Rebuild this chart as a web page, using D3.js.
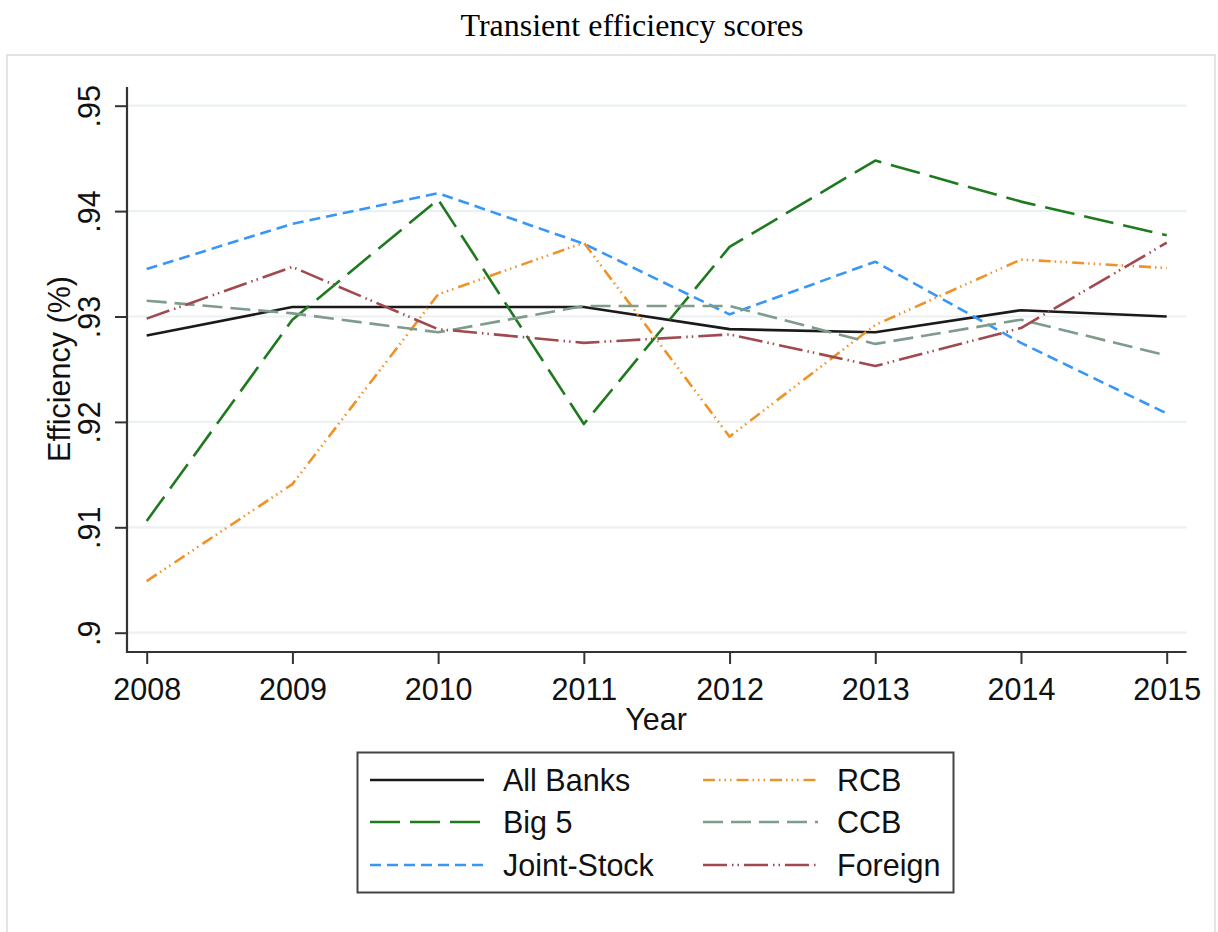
<!DOCTYPE html>
<html>
<head>
<meta charset="utf-8">
<script src="https://cdn.jsdelivr.net/npm/d3@7"></script>
<style>
  html, body { margin: 0; padding: 0; background: #fff; }
  svg { display: block; }
</style>
</head>
<body>
<svg id="chart" width="1218" height="932"></svg>
<script>
// ---- data ----
const years = [2008, 2009, 2010, 2011, 2012, 2013, 2014, 2015];
const allBanks   = [0.9282, 0.9309, 0.9309, 0.9309, 0.9288, 0.9285, 0.9306, 0.9300];
const big5       = [0.9106, 0.9297, 0.9411, 0.9198, 0.9366, 0.9448, 0.9409, 0.9377];
const jointStock = [0.9345, 0.9388, 0.9417, 0.9369, 0.9302, 0.9352, 0.9275, 0.9208];
const rcb        = [0.9049, 0.9141, 0.9321, 0.9370, 0.9186, 0.9292, 0.9354, 0.9346];
const ccb        = [0.9315, 0.9303, 0.9285, 0.9310, 0.9310, 0.9274, 0.9297, 0.9263];
const foreign    = [0.9298, 0.9347, 0.9288, 0.9275, 0.9283, 0.9253, 0.9289, 0.9370];
const yTicks = [0.90, 0.91, 0.92, 0.93, 0.94, 0.95];
const yTickLabels = [".9", ".91", ".92", ".93", ".94", ".95"];
const seriesNames = ["All Banks", "Big 5", "Joint-Stock", "RCB", "CCB", "Foreign"];

const series = [
  { name: seriesNames[0], values: allBanks,   color: "#1a1a1a", dash: null },
  { name: seriesNames[1], values: big5,       color: "#1f7a1f", dash: "30,10" },
  { name: seriesNames[2], values: jointStock, color: "#3796f6", dash: "11,6" },
  { name: seriesNames[3], values: rcb,        color: "#ef9227", dash: "12,4,1.5,4,1.5,4,1.5,5" },
  { name: seriesNames[4], values: ccb,        color: "#7e9b8b", dash: "20,8" },
  { name: seriesNames[5], values: foreign,    color: "#a04a50", dash: "24,5,1.5,4,1.5,5" }
];

const svg = d3.select("#chart");
const FONT = "'Liberation Sans', Arial, Helvetica, sans-serif";

// outer frame
svg.append("rect").attr("x", 7).attr("y", 55).attr("width", 1208).attr("height", 900)
  .attr("fill", "#fff").attr("stroke", "#e3e3e3").attr("stroke-width", 2);

// title
svg.append("text").attr("x", 632).attr("y", 36).attr("text-anchor", "middle")
  .attr("font-family", "'Liberation Serif', 'Times New Roman', serif")
  .attr("font-size", 32).attr("fill", "#000").text("Transient efficiency scores");

// scales
const x = d3.scaleLinear().domain([2008, 2015]).range([146.7, 1166.7]);
const y = d3.scaleLinear().domain([0.90, 0.95]).range([632.7, 105.7]);
const axisX0 = 127, axisY0 = 652, plotRight = 1186.5, plotTop = 87;

// gridlines
svg.append("g").selectAll("line").data(yTicks).join("line")
  .attr("x1", axisX0).attr("x2", plotRight)
  .attr("y1", d => y(d)).attr("y2", d => y(d))
  .attr("stroke", "#ebf1f3").attr("stroke-width", 2.2);

// y axis
const yAxis = d3.axisLeft(y).tickValues(yTicks)
  .tickFormat((d, i) => yTickLabels[i]).tickSize(12).tickSizeOuter(0);
const gy = svg.append("g").attr("transform", `translate(${axisX0},0)`).call(yAxis);
gy.select(".domain").remove();
gy.selectAll(".tick line").attr("stroke", "#333").attr("stroke-width", 2);
gy.selectAll(".tick text")
  .attr("x", 0).attr("y", 0).attr("dy", 0)
  .attr("transform", "translate(-27,0) rotate(-90)")
  .attr("text-anchor", "middle")
  .attr("font-family", FONT).attr("font-size", 30.5).attr("fill", "#111");

// x axis
const xAxis = d3.axisBottom(x).tickValues(years).tickFormat(d3.format("d"))
  .tickSize(12).tickSizeOuter(0);
const gx = svg.append("g").attr("transform", `translate(0,${axisY0})`).call(xAxis);
gx.select(".domain").remove();
gx.selectAll(".tick line").attr("stroke", "#333").attr("stroke-width", 2);
gx.selectAll(".tick text").attr("y", 48).attr("dy", 0)
  .attr("font-family", FONT).attr("font-size", 30.5).attr("fill", "#111");

// axis lines
svg.append("line").attr("x1", axisX0).attr("x2", axisX0).attr("y1", plotTop).attr("y2", axisY0 + 1)
  .attr("stroke", "#333").attr("stroke-width", 2.2);
svg.append("line").attr("x1", axisX0).attr("x2", plotRight).attr("y1", axisY0).attr("y2", axisY0)
  .attr("stroke", "#333").attr("stroke-width", 2.2);

// axis titles
svg.append("text").attr("transform", "translate(70,369) rotate(-90)")
  .attr("text-anchor", "middle").attr("font-family", FONT).attr("font-size", 30.5)
  .attr("fill", "#111").text("Efficiency (%)");
svg.append("text").attr("x", 656).attr("y", 730).attr("text-anchor", "middle")
  .attr("font-family", FONT).attr("font-size", 30.5).attr("fill", "#111").text("Year");

// lines
const line = d3.line().x((d, i) => x(years[i])).y(d => y(d));
svg.append("g").selectAll("path").data(series).join("path")
  .attr("d", d => line(d.values))
  .attr("fill", "none")
  .attr("stroke", d => d.color)
  .attr("stroke-width", 2.6)
  .attr("stroke-dasharray", d => d.dash)
  .attr("stroke-linejoin", "round");

// legend
const lg = svg.append("g");
lg.append("rect").attr("x", 357.5).attr("y", 752.5).attr("width", 596).attr("height", 140)
  .attr("fill", "#fff").attr("stroke", "#444").attr("stroke-width", 2);
const rowsY = [780, 822, 865];
const cols = [{ x1: 370, x2: 484, tx: 503 }, { x1: 703, x2: 818, tx: 837 }];
series.forEach((s, i) => {
  const c = cols[Math.floor(i / 3)];
  const ry = rowsY[i % 3];
  lg.append("line").attr("x1", c.x1).attr("x2", c.x2).attr("y1", ry).attr("y2", ry)
    .attr("stroke", s.color).attr("stroke-width", 2.6).attr("stroke-dasharray", s.dash);
  lg.append("text").attr("x", c.tx).attr("y", ry + 11)
    .attr("font-family", FONT).attr("font-size", 30.5).attr("fill", "#111").text(s.name);
});
</script>
</body>
</html>
